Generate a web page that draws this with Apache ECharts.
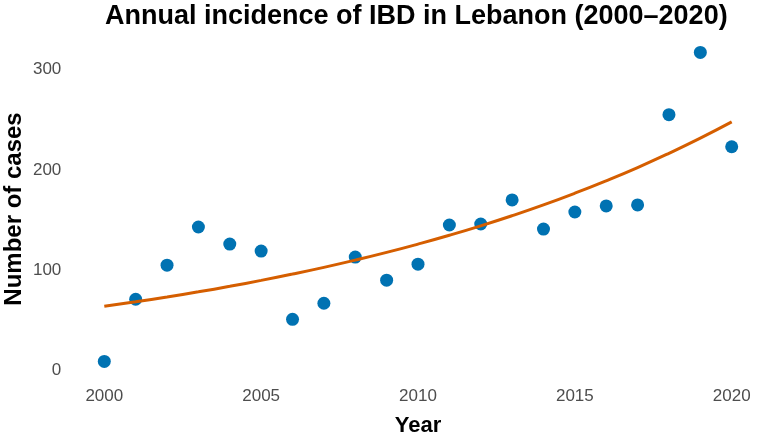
<!DOCTYPE html>
<html>
<head>
<meta charset="utf-8">
<script src="https://cdn.jsdelivr.net/npm/echarts@6/dist/echarts.min.js"></script>
<style>
  html, body { margin: 0; padding: 0; background: #fff; }
  #chart { width: 757px; height: 438px; }
</style>
</head>
<body>
<div id="chart"></div>
<script>
// data
var years = [2000, 2001, 2002, 2003, 2004, 2005, 2006, 2007, 2008, 2009, 2010,
             2011, 2012, 2013, 2014, 2015, 2016, 2017, 2018, 2019, 2020];
var cases = [9, 71, 105, 143, 126, 119, 51, 67, 113, 90, 106,
             145, 146, 170, 141, 158, 164, 165, 255, 317, 223];
// fitted trend curve (orange), read at each year
var trend = [64, 68.5, 73.3, 78.4, 83.9, 89.8, 96.1, 102.8, 110, 117.7, 126,
             134.8, 144.2, 154.3, 165.1, 176.7, 189.1, 202.3, 216.5, 231.6, 247.8];
var yTicks = [0, 100, 200, 300];

var font = '"Liberation Sans", Arial, sans-serif';

var pts = years.map(function (y, i) { return [y, cases[i]]; });
var fit = years.map(function (y, i) { return [y, trend[i]]; });

var chart = echarts.init(document.getElementById('chart'));
chart.setOption({
  animation: false,
  backgroundColor: '#fff',
  title: {
    text: 'Annual incidence of IBD in Lebanon (2000–2020)',
    left: 105,
    top: 3,
    padding: 0,
    textStyle: { fontFamily: font, fontSize: 27, fontWeight: 'bold', color: '#000' }
  },
  grid: {
    left: 104.3, right: 25.3, top: 69.5, bottom: 67.5,
    containLabel: false,
    outerBoundsMode: 'none'
  },
  xAxis: {
    type: 'value',
    min: 2000,
    max: 2020,
    interval: 5,
    name: 'Year',
    nameLocation: 'middle',
    nameGap: 44,
    nameTextStyle: { fontFamily: font, fontSize: 22, fontWeight: 'bold', color: '#000' },
    axisLine: { show: false },
    axisTick: { show: false },
    splitLine: { show: false },
    axisLabel: {
      margin: 17,
      fontFamily: font, fontSize: 17, color: '#4d4d4d',
      formatter: function (v) { return String(v); }
    }
  },
  yAxis: {
    type: 'value',
    min: yTicks[0],
    max: yTicks[yTicks.length - 1],
    interval: 100,
    axisLine: { show: false },
    axisTick: { show: false },
    splitLine: { show: false },
    axisLabel: { margin: 43, fontFamily: font, fontSize: 17, color: '#4d4d4d' }
  },
  graphic: [{
    type: 'text',
    x: 14,
    y: 209,
    rotation: Math.PI / 2,
    style: {
      text: 'Number of cases',
      fontFamily: font, fontSize: 24, fontWeight: 'bold', fill: '#000',
      align: 'center', verticalAlign: 'middle'
    }
  }],
  series: [
    {
      type: 'line',
      data: fit,
      smooth: true,
      showSymbol: false,
      clip: false,
      lineStyle: { color: '#D55E00', width: 3 },
      z: 3
    },
    {
      type: 'scatter',
      data: pts,
      symbolSize: 13,
      clip: false,
      itemStyle: { color: '#0072B2', opacity: 1 },
      z: 2
    }
  ]
});
</script>
</body>
</html>
